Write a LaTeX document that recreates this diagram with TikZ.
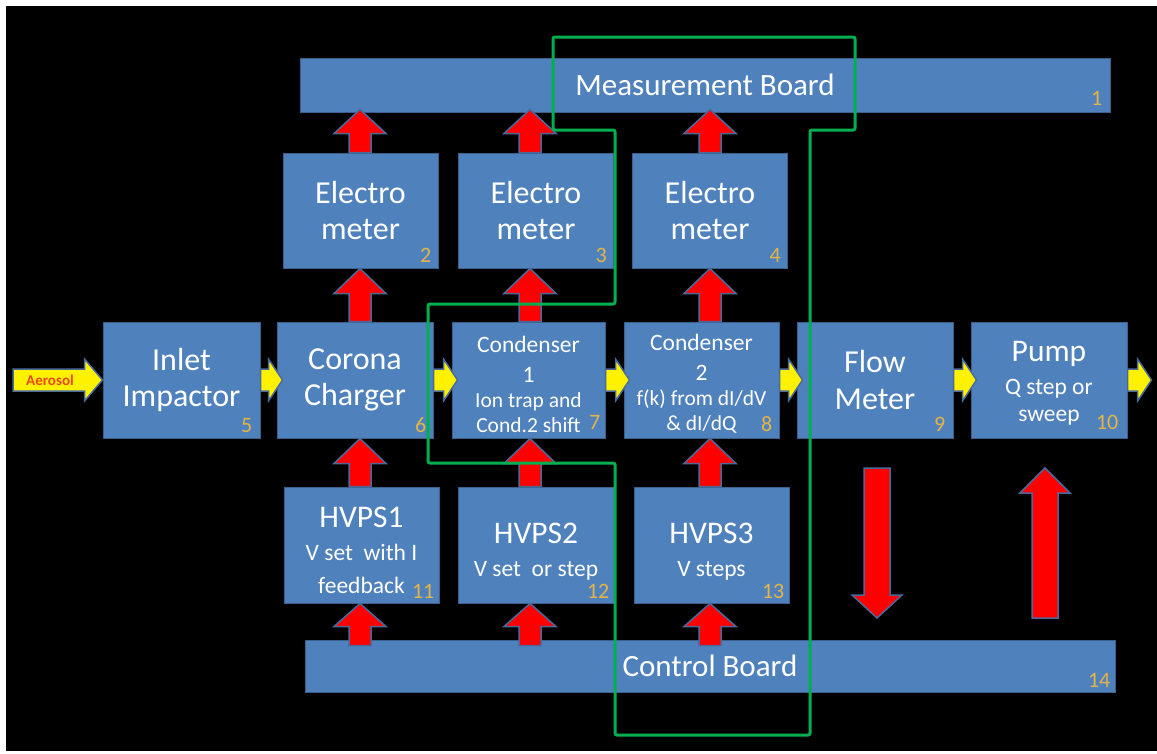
\documentclass[tikz,border=0pt]{standalone}
\usepackage{fontspec}
\setmainfont{Carlito}
\usetikzlibrary{calc}
\definecolor{boxblue}{RGB}{79,129,189}
\definecolor{boxedge}{RGB}{60,96,140}
\definecolor{arredge}{RGB}{75,105,155}
\definecolor{numgold}{RGB}{228,180,70}
\definecolor{loopgreen}{RGB}{0,176,80}
\definecolor{aerored}{RGB}{235,70,20}
\newcommand{\subf}{\fontsize{21.5}{25}\selectfont}
\newcommand{\hsub}{\fontsize{23.5}{27}\selectfont}
\newcommand{\blockarrow}[6]{%
  \coordinate (bab) at ($(#3)!#4!(#2)$);
  \draw[#1] ($(#2)!#5!90:(#3)$) -- ($(bab)!#5!90:(#3)$) -- ($(bab)!#6!90:(#3)$) -- (#3) -- ($(bab)!#6!-90:(#3)$) -- ($(bab)!#5!-90:(#3)$) -- ($(#2)!#5!-90:(#3)$) -- cycle;}
\begin{document}
\begin{tikzpicture}[x=1pt,y=-1pt,
  box/.style={draw=boxedge, line width=1pt, fill=boxblue, inner sep=0pt},
  ebox/.style={box, minimum width=155pt, minimum height=115pt},
  mbox/.style={box, minimum width=156pt, minimum height=116pt},
  txt/.style={text=white, align=center, inner sep=0pt, font=\fontsize{32}{36.5}\selectfont},
  btxt/.style={txt, font=\fontsize{31}{36}\selectfont},
  ctxt/.style={txt, font=\fontsize{23.5}{25}\selectfont},
  htxt/.style={txt, font=\fontsize{31.5}{33}\selectfont},
  num/.style={text=numgold, inner sep=0pt, anchor=base east, font=\fontsize{22}{22}\selectfont},
  redarr/.style={fill=red, draw=arredge, line width=1.5pt},
  yelarr/.style={fill=yellow, draw=arredge, line width=1.5pt},
  aero/.style={text=aerored, inner sep=0pt, font=\fontsize{15}{15}\selectfont\bfseries},
  loop/.style={draw=loopgreen, line width=3pt, rounded corners=2pt}]
\fill[white] (0,0) rectangle (1157,753);
\fill[black] (6,6) rectangle (1157,751);
\useasboundingbox (0,0) rectangle (1157,753);
% boxes
\node[box, minimum width=810pt, minimum height=54pt] (mb) at (705,85) {};
\node[ebox] (e2) at (360.5,210.5) {};
\node[ebox] (e3) at (536,210.5) {};
\node[ebox] (e4) at (710,210.5) {};
\node[mbox, minimum width=157pt] (inlet) at (181.5,380) {};
\node[mbox] (corona) at (355,380) {};
\node[mbox, minimum width=153pt] (c1) at (528.5,380) {};
\node[mbox, minimum width=155pt] (c2) at (701.5,380) {};
\node[mbox] (flow) at (875,380) {};
\node[mbox] (pump) at (1049,380) {};
\node[mbox, minimum width=155pt] (h1) at (361.5,545) {};
\node[mbox] (h2) at (536,545) {};
\node[mbox, minimum width=155pt] (h3) at (711.5,545) {};
\node[box, minimum width=810pt, minimum height=52pt] (cb) at (710,666) {};
% texts
\node[btxt] (mbt) at (mb) {Measurement Board};
\node[btxt] (cbt) at (cb) {Control Board};
\node[txt] (e2t) at (e2) {Electro\\meter};
\node[txt] (e3t) at (e3) {Electro\\meter};
\node[txt] (e4t) at (e4) {Electro\\meter};
\node[txt] (inlett) at (inlet) {Inlet\\Impactor};
\node[txt] (coronat) at (corona) {Corona\\Charger};
\node[txt] (flowt) at (flow) {Flow\\Meter};
\node[ctxt] (c1t) at ([yshift=-4pt]c1.center) {Condenser\\[5pt]1\\{\subf Ion trap and}\\{\subf Cond.2 shift}};
\node[ctxt] (c2t) at ([yshift=-4pt]c2.center) {Condenser\\[5pt]2\\{\subf f(k) from dI/dV}\\{\subf \& dI/dQ}};
\node[htxt] (pumpt) at ([yshift=-3pt]pump.center) {Pump\\{\hsub Q step or}\\[-6pt]{\hsub sweep}};
\node[htxt] (h1t) at ([yshift=-5pt]h1.center) {HVPS1\\{\hsub V set\ \ with I}\\{\hsub feedback}};
\node[htxt] (h2t) at ([yshift=-7pt]h2.center) {HVPS2\\{\hsub V set\ \ or step}};
\node[htxt] (h3t) at ([yshift=-7pt]h3.center) {HVPS3\\{\hsub V steps}};
% numbers
\node[num] (n1) at ([xshift=-8pt,yshift=7pt]mb.south east) {1};
\node[num] (n2) at ([xshift=-7pt,yshift=6pt]e2.south east) {2};
\node[num] (n3) at ([xshift=-7pt,yshift=6pt]e3.south east) {3};
\node[num] (n4) at ([xshift=-7pt,yshift=6pt]e4.south east) {4};
\node[num] (n5) at ([xshift=-8pt,yshift=6pt]inlet.south east) {5};
\node[num] (n6) at ([xshift=-7pt,yshift=6pt]corona.south east) {6};
\node[num] (n7) at ([xshift=-5pt,yshift=9pt]c1.south east) {7};
\node[num] (n8) at ([xshift=-7pt,yshift=7pt]c2.south east) {8};
\node[num] (n9) at ([xshift=-8pt,yshift=7pt]flow.south east) {9};
\node[num] (n10) at ([xshift=-9pt,yshift=9pt]pump.south east) {10};
\node[num] (n11) at ([xshift=-5pt,yshift=5pt]h1.south east) {11};
\node[num] (n12) at ([xshift=-5pt,yshift=5pt]h2.south east) {12};
\node[num] (n13) at ([xshift=-5pt,yshift=5pt]h3.south east) {13};
\node[num] (n14) at ([xshift=-5pt,yshift=5pt]cb.south east) {14};
% red arrows
\coordinate (k1) at (360,0);
\coordinate (k2) at (530,0);
\coordinate (k3) at (710,0);
\coordinate (m1) at ($(k1 |- mb.south)+(0,-3)$);
\coordinate (m2) at ($(k2 |- mb.south)+(0,-3)$);
\coordinate (m3) at ($(k3 |- mb.south)+(0,-3)$);
\blockarrow{redarr}{k1 |- e2.north}{m1}{24pt}{11pt}{26pt}
\blockarrow{redarr}{k2 |- e3.north}{m2}{24pt}{11pt}{26pt}
\blockarrow{redarr}{k3 |- e4.north}{m3}{24pt}{11pt}{26pt}
\blockarrow{redarr}{k1 |- corona.north}{k1 |- e2.south}{25pt}{11pt}{26pt}
\blockarrow{redarr}{k2 |- c1.north}{k2 |- e3.south}{25pt}{11pt}{26pt}
\blockarrow{redarr}{k3 |- c2.north}{k3 |- e4.south}{25pt}{11pt}{26pt}
\blockarrow{redarr}{k1 |- h1.north}{k1 |- corona.south}{25pt}{11pt}{26pt}
\blockarrow{redarr}{k2 |- h2.north}{k2 |- c1.south}{25pt}{11pt}{26pt}
\blockarrow{redarr}{k3 |- h3.north}{k3 |- c2.south}{25pt}{11pt}{26pt}
\coordinate (b1) at ($(k1 |- cb.north)+(0,6)$);
\coordinate (b2) at ($(k2 |- cb.north)+(0,6)$);
\coordinate (b3) at ($(k3 |- cb.north)+(0,6)$);
\blockarrow{redarr}{b1}{k1 |- h1.south}{23pt}{11pt}{26pt}
\blockarrow{redarr}{b2}{k2 |- h2.south}{23pt}{11pt}{26pt}
\blockarrow{redarr}{b3}{k3 |- h3.south}{23pt}{11pt}{26pt}
\coordinate (dA) at (877,468);
\coordinate (dB) at (877,618);
\coordinate (uA) at (1045,618);
\coordinate (uB) at (1045,468);
\blockarrow{redarr}{dA}{dB}{23pt}{13pt}{25pt}
\blockarrow{redarr}{uA}{uB}{25pt}{13pt}{25pt}
% yellow arrows
\coordinate (ain) at (13,380);
\blockarrow{yelarr}{ain}{inlet.west}{18pt}{11pt}{21pt}
\node[aero] (aerot) at (50,380) {Aerosol};
\blockarrow{yelarr}{inlet.east}{[xshift=6pt]corona.west}{14pt}{11pt}{21pt}
\blockarrow{yelarr}{corona.east}{[xshift=6pt]c1.west}{14pt}{11pt}{21pt}
\blockarrow{yelarr}{c1.east}{[xshift=6pt]c2.west}{14pt}{11pt}{21pt}
\blockarrow{yelarr}{c2.east}{[xshift=6pt]flow.west}{14pt}{11pt}{21pt}
\blockarrow{yelarr}{flow.east}{[xshift=6pt]pump.west}{14pt}{11pt}{21pt}
\coordinate (pout) at ($(pump.east)+(24,0)$);
\blockarrow{yelarr}{pump.east}{pout}{14pt}{11pt}{21pt}
% green loop
\draw[loop] (553,37) -- (855,37) -- (855,130) -- (810,130) -- (810,735) -- (615,735) -- (615,463) -- (428,463) -- (428,304) -- (615,304) -- (615,130) -- (553,130) -- cycle;
\end{tikzpicture}
\end{document}
